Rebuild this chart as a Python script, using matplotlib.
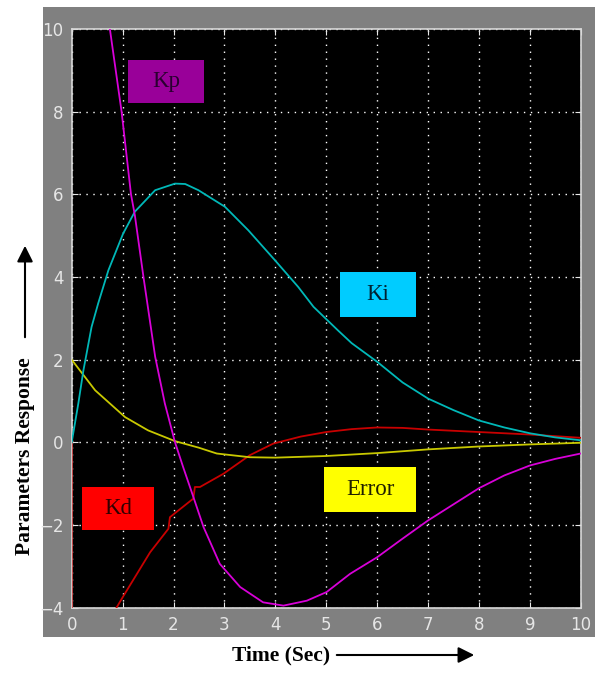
import matplotlib
matplotlib.use("Agg")
import matplotlib.pyplot as plt
from matplotlib.patches import Rectangle, FancyArrowPatch

# ---- data ----
kp_t = [0.6, 0.75, 0.98, 1.165, 1.24, 1.41, 1.64, 1.83, 2.03, 2.19, 2.39, 2.59, 2.91, 3.31, 3.76, 4.16, 4.62, 5.01, 5.47, 6.0, 6.5, 7.0, 7.5, 8.0, 8.5, 9.0, 9.5, 10.0]
kp_v = [12.0, 10.0, 8.0, 6.0, 5.5, 4.0, 2.07, 0.94, 0.0, -0.6, -1.32, -2.05, -2.94, -3.5, -3.87, -3.95, -3.83, -3.62, -3.18, -2.78, -2.33, -1.89, -1.5, -1.11, -0.8, -0.56, -0.4, -0.27]

ki_t = [0.0, 0.13, 0.23, 0.39, 0.52, 0.72, 1.01, 1.24, 1.64, 2.03, 2.23, 2.49, 3.01, 3.47, 3.99, 4.45, 4.75, 5.23, 5.5, 6.0, 6.5, 7.0, 7.5, 8.0, 8.5, 9.0, 9.5, 10.0]
ki_v = [0.0, 0.94, 1.74, 2.79, 3.36, 4.16, 5.05, 5.58, 6.10, 6.26, 6.25, 6.10, 5.70, 5.13, 4.41, 3.76, 3.28, 2.71, 2.4, 1.95, 1.45, 1.06, 0.78, 0.53, 0.36, 0.22, 0.12, 0.05]

kd_t = [0.0, 0.0, 0.7, 0.88, 1.0, 1.54, 1.9, 1.93, 2.39, 2.42, 2.52, 2.98, 3.5, 3.96, 4.5, 5.0, 5.5, 6.0, 6.5, 7.0, 7.5, 8.0, 8.5, 9.0, 9.5, 10.0]
kd_v = [0.0, -6.0, -4.5, -4.0, -3.75, -2.66, -2.09, -1.81, -1.36, -1.08, -1.08, -0.76, -0.31, -0.03, 0.14, 0.25, 0.32, 0.36, 0.35, 0.31, 0.28, 0.25, 0.22, 0.19, 0.15, 0.11]

err_t = [0.0, 0.46, 1.05, 1.5, 2.03, 2.5, 2.85, 3.5, 4.0, 5.0, 6.0, 7.0, 8.0, 9.0, 10.0]
err_v = [2.0, 1.26, 0.61, 0.29, 0.03, -0.13, -0.27, -0.36, -0.37, -0.33, -0.26, -0.17, -0.10, -0.05, -0.01]

x_ticks = [0, 1, 2, 3, 4, 5, 6, 7, 8, 9, 10]
y_ticks = [-4, -2, 0, 2, 4, 6, 8, 10]

labels = ["Kp", "Ki", "Kd", "Error"]

# ---- figure ----
W, H = 595, 675
fig = plt.figure(figsize=(W / 100, H / 100), dpi=100)
fig.patch.set_facecolor("white")

def fx(px):
    return px / W

def fy(py):
    return 1 - py / H

# gray panel
fig.patches.append(Rectangle((fx(42.7), fy(637)), fx(595) - fx(42.7), fy(6.7) - fy(637),
                             transform=fig.transFigure, facecolor="#808080", edgecolor="none", zorder=-5))

ax = fig.add_axes([fx(71.7), fy(607.7), fx(580.7) - fx(71.7), fy(29) - fy(607.7)])
ax.set_zorder(1)
ax.set_facecolor("black")
ax.set_xlim(0, 10)
ax.set_ylim(-4, 10)
ax.set_xticks(x_ticks)
ax.set_yticks(y_ticks)
ax.grid(True, color="white", linestyle=(0, (1, 4)), linewidth=1.0)
for s in ax.spines.values():
    s.set_color("#d8d8d8")
    s.set_linewidth(1.2)
ax.tick_params(direction="in", top=True, right=True, colors="#e8e8e8", length=4,
               labelsize=12, pad=6)
for lab in ax.get_xticklabels() + ax.get_yticklabels():
    lab.set_color("#e6e6e6")

ax.plot(kd_t, kd_v, color="#c80000", lw=1.3, zorder=3)
ax.plot(err_t, err_v, color="#c8c800", lw=1.3, zorder=3)
ax.plot(ki_t, ki_v, color="#00b8b8", lw=1.3, zorder=3)
ax.plot(kp_t, kp_v, color="#d800d8", lw=1.3, zorder=3)

# label boxes
def box(x0, y0, x1, y1, fc, text, tc):
    fig.patches.append(Rectangle((fx(x0), fy(y1)), fx(x1) - fx(x0), fy(y0) - fy(y1),
                                 transform=fig.transFigure, facecolor=fc, edgecolor="none", zorder=5))
    fig.text(fx((x0 + x1) / 2), fy((y0 + y1) / 2), text, ha="center", va="center",
             family="Liberation Serif", fontsize=16.5, color=tc, zorder=6)

box(128, 60, 204, 103, "#990099", labels[0], "#2a0030")
box(340, 272, 416, 317, "#00ccff", labels[1], "#002030")
box(82, 487, 154, 530, "#ff0000", labels[2], "#300000")
box(324, 467, 416, 512, "#ffff00", labels[3], "#202000")

# axis labels with arrows
fig.text(fx(25), fy(456), "Parameters Response", rotation=90, ha="center", va="center",
         family="Liberation Serif", fontweight="bold", fontsize=15.5, color="black")
fig.patches.append(FancyArrowPatch((fx(25), fy(340)), (fx(25), fy(243)), transform=fig.transFigure,
                                   arrowstyle="-|>,head_length=6,head_width=3", color="black", lw=1.5,
                                   mutation_scale=1.6))
fig.text(fx(281), fy(655), "Time (Sec)", ha="center", va="center",
         family="Liberation Serif", fontweight="bold", fontsize=15.5, color="black")
fig.patches.append(FancyArrowPatch((fx(334), fy(655)), (fx(477), fy(655)), transform=fig.transFigure,
                                   arrowstyle="-|>,head_length=6,head_width=3", color="black", lw=1.5,
                                   mutation_scale=1.6))

fig.savefig("out.png", dpi=100, facecolor="white")
